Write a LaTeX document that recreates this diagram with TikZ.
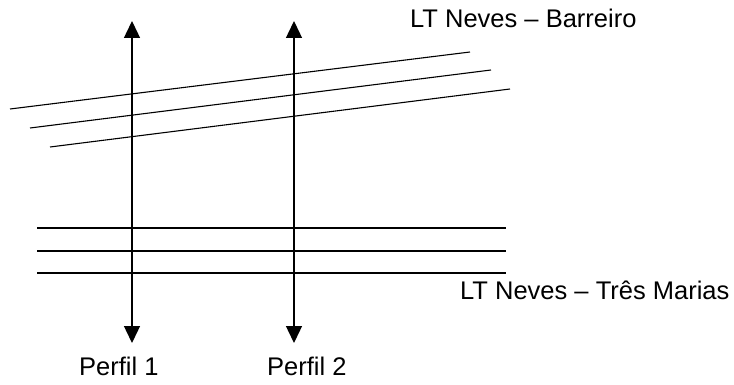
\documentclass[tikz,border=0pt]{standalone}
\usepackage{fontspec}
\setmainfont{Liberation Sans}
\usetikzlibrary{arrows.meta}

\begin{document}
\begin{tikzpicture}[x=1pt,y=-1pt,>={Triangle[width=16pt,length=17pt]}]
        \useasboundingbox (0,0) rectangle (734,385);
        \tikzset{linha/.style={line width=1.1pt}, rotulo/.style={anchor=base west,inner sep=0pt,font=\fontsize{25.5}{29}\selectfont}}

        % LT Neves - Barreiro (inclinadas)
        \coordinate (b1a) at (10,109);   \coordinate (b1b) at (470,52);
        \coordinate (b2a) at (30,128);   \coordinate (b2b) at (491,70);
        \coordinate (b3a) at (50,147);   \coordinate (b3b) at (510,89);
        \draw[linha] (b1a)--(b1b);
        \draw[linha] (b2a)--(b2b);
        \draw[linha] (b3a)--(b3b);

        % LT Neves - Tres Marias (horizontais)
        \coordinate (t1a) at (37,228);   \coordinate (t1b) at (506,228);
        \coordinate (t2a) at (37,251);   \coordinate (t2b) at (506,251);
        \coordinate (t3a) at (37,273);   \coordinate (t3b) at (506,273);
        \draw[linha] (t1a)--(t1b);
        \draw[linha] (t2a)--(t2b);
        \draw[linha] (t3a)--(t3b);

        % perfis
        \coordinate (p1a) at (132,21);   \coordinate (p1b) at (132,343);
        \coordinate (p2a) at (294,21);   \coordinate (p2b) at (294,343);
        \draw[<->,line width=1.4pt] (p1b)--(p1a);
        \draw[<->,line width=1.4pt] (p2b)--(p2a);

        \node[rotulo] (barreiro) at (410,28) {LT Neves -- Barreiro};
        \node[rotulo] (tresmarias) at (460,299) {LT Neves -- Três Marias};
        \node[rotulo] (perfil1) at (79,375) {Perfil 1};
        \node[rotulo] (perfil2) at (267,375) {Perfil 2};
\end{tikzpicture}
\end{document}
